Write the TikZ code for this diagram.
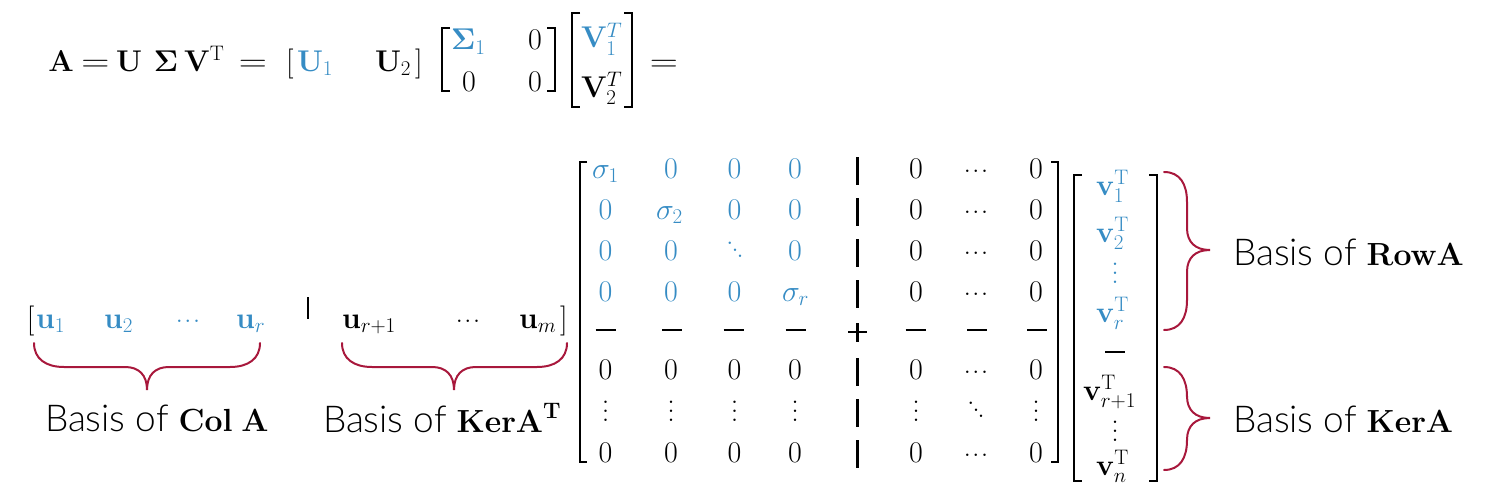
\RequirePackage{fix-cm}
\documentclass[tikz,border=0pt]{standalone}
\usepackage[no-math]{fontspec}
\usepackage{amsmath}
\usepackage{graphicx}
\newfontfamily\lightfont{Lato Light}
\definecolor{sblue}{HTML}{368CC4}
\definecolor{bred}{HTML}{A8183C}
\newcommand\mycd{\raisebox{0.2em}{.\kern0.04em.\kern0.04em.}}
\newcommand\myvd{\vbox{\baselineskip0.3em\lineskiplimit-10pt\hbox{.}\hbox{.}\hbox{.}}}
\newcommand\mydd{\hbox{\raisebox{0.42em}{.}\kern-0.08em\raisebox{0.21em}{.}\kern-0.08em.}}
\newcommand\myeq{\scalebox{1.3}[1.05]{$=$}}
\newcommand\myhbrace[4]{\draw[bracestyle] (#1,#4) .. controls (#1,{#4+16}) and ({#1+12},{#4+24}) .. ({#1+30},{#4+24}) -- ({#3-22},{#4+24}) .. controls ({#3-8},{#4+24}) and (#3,{#4+32}) .. (#3,{#4+47}) .. controls (#3,{#4+32}) and ({#3+8},{#4+24}) .. ({#3+22},{#4+24}) -- ({#2-30},{#4+24}) .. controls ({#2-12},{#4+24}) and (#2,{#4+16}) .. (#2,#4);}
\newcommand\myvbrace[4]{\draw[bracestyle] (#1,#2) .. controls ({#1+16},#2) and ({#1+23},{#2+12}) .. ({#1+23},{#2+30}) -- ({#1+23},{#4-22}) .. controls ({#1+23},{#4-8}) and ({#1+31},#4) .. ({#1+46},#4) .. controls ({#1+31},#4) and ({#1+23},{#4+8}) .. ({#1+23},{#4+22}) -- ({#1+23},{#3-30}) .. controls ({#1+23},{#3-12}) and ({#1+16},#3) .. (#1,#3);}
\begin{document}
\begin{tikzpicture}[x=1pt,y=-1pt,
  every node/.style={inner sep=0pt,outer sep=0pt,font=\fontsize{30}{36}\selectfont},
  b/.style={anchor=base},
  bw/.style={anchor=base west},
  bl/.style={text=sblue},
  lab/.style={anchor=base west,font=\fontsize{37}{43}\selectfont},
  bracestyle/.style={draw=bred,line width=2pt,line cap=round},
  brk/.style={draw=black,line width=2.5pt},
  thinbrk/.style={draw=black,line width=1.8pt},
  sep/.style={draw=black,line width=2.2pt}]
\useasboundingbox (0,0) rectangle (1500,495);
% ---------- top line ----------
\node[b] (tA) at (61,71) {$\mathbf{A}$};
\node[b] (teq1) at (95.5,71) {\myeq};
\node[b] (tU) at (129,71) {$\mathbf{U}$};
\node[b] (tS) at (166,71) {$\mathbf{\Sigma}$};
\node[bw] (tV) at (184,71) {$\mathbf{V}^{\mathrm{T}}$};
\node[b] (teq2) at (253,71) {\myeq};
\node[bw] (tlb) at (286,71) {[};
\node[bw,bl] (tU1) at (297,71) {$\mathbf{U}_1$};
\node[bw] (tU2) at (375,71) {$\mathbf{U}_2$};
\node[bw] (trb) at (415,71) {]};
% Sigma matrix
\draw[thinbrk] (450,28) -- (442,28) -- (442,91) -- (450,91);
\draw[thinbrk] (547,28) -- (555,28) -- (555,91) -- (547,91);
\node[bw,bl] (tS1) at (451,50) {$\mathbf{\Sigma}_1$};
\node[b] (tz12) at (535,50) {$0$};
\node[b] (tz21) at (469,92) {$0$};
\node[b] (tz22) at (535,92) {$0$};
% V matrix
\draw[thinbrk] (580,13) -- (572,13) -- (572,107) -- (580,107);
\draw[thinbrk] (624,13) -- (632,13) -- (632,107) -- (624,107);
\node[bw,bl] (tV1) at (581,48) {$\mathbf{V}_1^{T}$};
\node[bw] (tV2) at (581,97) {$\mathbf{V}_2^{T}$};
\node[b] (teq3) at (664,71) {\myeq};
% ---------- U row ----------
\node[bw] (ulb) at (27,328) {[};
\node[bw,bl] (u1) at (36,328) {$\mathbf{u}_1$};
\node[bw,bl] (u2) at (104,328) {$\mathbf{u}_2$};
\node[b,bl] (ucd1) at (188,328) {\mycd};
\node[bw,bl] (ur) at (236,328) {$\mathbf{u}_r$};
\draw[sep] (308,297) -- (308,319);
\node[bw] (ur1) at (342,328) {$\mathbf{u}_{r+1}$};
\node[b] (ucd2) at (468,328) {\mycd};
\node[bw] (um) at (519,328) {$\mathbf{u}_m$};
\node[bw] (urb) at (560,328) {]};
\myhbrace{34}{260}{147}{343}
\myhbrace{342}{567}{454}{343}
\node[lab] (lcol) at (45,431) {\lightfont Basis of {\fontsize{32}{38}\selectfont$\mathbf{Col\ A}$}};
\node[lab] (lkerT) at (323,432) {\lightfont Basis of {\fontsize{32}{38}\selectfont$\mathbf{KerA}^{\mathbf{T}}$}};
% ---------- big matrix ----------
\draw[brk] (587,162) -- (580,162) -- (580,462) -- (587,462);
\draw[brk] (1051,162) -- (1058,162) -- (1058,462) -- (1051,462);
% row 1
\node[bw,bl] (s1) at (592,178) {$\sigma_1$};
\node[b,bl] (m12) at (671,178) {$0$};
\node[b,bl] (m13) at (734.5,178) {$0$};
\node[b,bl] (m14) at (795,178) {$0$};
% row 2
\node[b,bl] (m21) at (605.5,219) {$0$};
\node[bw,bl] (s2) at (656,219) {$\sigma_2$};
\node[b,bl] (m23) at (734.5,219) {$0$};
\node[b,bl] (m24) at (795,219) {$0$};
% row 3
\node[b,bl] (m31) at (605.5,260) {$0$};
\node[b,bl] (m32) at (671,260) {$0$};
\node[bl] (m33) at (735,250) {\mydd};
\node[b,bl] (m34) at (795,260) {$0$};
% row 4
\node[b,bl] (m41) at (605.5,301) {$0$};
\node[b,bl] (m42) at (671,301) {$0$};
\node[b,bl] (m43) at (734.5,301) {$0$};
\node[bw,bl] (sr) at (782,301) {$\sigma_r$};
% right block rows 1-4
\foreach \yy/\nm in {178/a,219/b,260/c,301/d}{
  \node[b] (r\nm6) at (916,\yy) {$0$};
  \node[b] (r\nm7) at (976,\yy) {\mycd};
  \node[b] (r\nm8) at (1036,\yy) {$0$};
}
% bars
\foreach \yc in {171,212,253,294,372,413,454}{
  \draw[sep] (857.5,{\yc-14}) -- (857.5,{\yc+14});
}
% dash row
\foreach \xc in {605.5,672,733.5,795.5,915.5,977,1037}{
  \draw[sep] ({\xc-10},330) -- ({\xc+10},330);
}
\draw[sep] (848,332) -- (867,332);
\draw[sep] (857.5,323) -- (857.5,342);
% rows 6-8
\foreach \xc/\nm in {605.5/1,671/2,734.5/3,795/4,916/6,1036/8}{
  \node[b] (f\nm) at (\xc,379) {$0$};
  \node (g\nm) at (\xc,411) {\myvd};
  \node[b] (h\nm) at (\xc,462) {$0$};
}
\node[b] (f7) at (976,379) {\mycd};
\node (g7) at (976,410) {\mydd};
\node[b] (h7) at (976,462) {\mycd};
% ---------- V^T vector ----------
\draw[brk] (1082,175) -- (1074,175) -- (1074,481) -- (1082,481);
\draw[brk] (1149,175) -- (1157,175) -- (1157,481) -- (1149,481);
\node[bw,bl] (v1) at (1096,195) {$\mathbf{v}_1^{\mathrm{T}}$};
\node[bw,bl] (v2) at (1096,242) {$\mathbf{v}_2^{\mathrm{T}}$};
\node[bl] (vd1) at (1115,273) {\myvd};
\node[bw,bl] (vr) at (1096,322) {$\mathbf{v}_r^{\mathrm{T}}$};
\draw[sep] (1105,352) -- (1125,352);
\node[bw] (vr1) at (1083,400) {$\mathbf{v}_{r+1}^{\mathrm{T}}$};
\node (vd2) at (1115,431) {\myvd};
\node[bw] (vn) at (1096,475) {$\mathbf{v}_n^{\mathrm{T}}$};
\myvbrace{1164}{172}{330}{250}
\myvbrace{1164}{367}{470}{418}
\node[lab] (lrow) at (1233,265) {\lightfont Basis of {\fontsize{32}{38}\selectfont$\mathbf{RowA}$}};
\node[lab] (lker) at (1233,432) {\lightfont Basis of {\fontsize{32}{38}\selectfont$\mathbf{KerA}$}};
\end{tikzpicture}
\end{document}
